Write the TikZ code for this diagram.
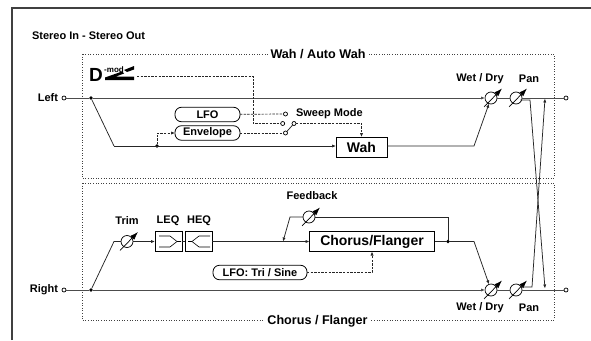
\documentclass[tikz,border=0pt]{standalone}
\usepackage{fontspec}
\setmainfont{Liberation Sans}
\usepackage{tikz}
\usetikzlibrary{arrows.meta,positioning}

\newcommand{\knob}[3]{
\node [knobnode] (#1) at (#2,#3) {};
\draw [knobline] (#2-7,#3+9) -- (#2+11,#3-9.5);
}

\begin{document}
\begin{tikzpicture}[x=1pt, y=-1pt, >={Latex[length=4pt,width=3.2pt]},
  every node/.style={font=\fontsize{11}{12}\selectfont\bfseries, inner sep=0pt, outer sep=0pt},
  sigline/.style={line width=0.75pt, black!85},
  mainline/.style={line width=1pt, black!70},
  modline/.style={line width=0.7pt, dash pattern=on 2.4pt off 1.2pt, black!85},
  dotbox/.style={line width=0.6pt, dotted, black!75},
  frameline/.style={line width=1.1pt, black!75},
  knobnode/.style={circle, draw, line width=0.7pt, minimum size=12pt},
  knobline/.style={line width=0.7pt, -{Latex[length=8pt,width=5.5pt]}},
  port/.style={circle, draw, fill=white, line width=0.7pt, minimum size=4pt},
  junction/.style={circle, fill=black, minimum size=3.8pt},
  pill/.style={draw, line width=0.8pt, rounded corners=6.5pt, minimum height=14.5pt},
  fxbox/.style={draw, line width=0.8pt, minimum height=20pt, font=\fontsize{14}{15}\selectfont\bfseries},
  eqbox/.style={draw, line width=0.7pt, minimum width=27pt, minimum height=20pt},
  eqline/.style={line width=0.6pt}]
\useasboundingbox (0,0) rectangle (591,340);

\draw [frameline] (12,340) -- (12,8) -- (591,8);
\node [anchor=west] (title) at (32,35.5) {Stereo In - Stereo Out};

% effect blocks
\draw [dotbox] (82,54) rectangle (554,178);
\draw [dotbox] (82,183) rectangle (554,320);
\node [fill=white, inner xsep=2pt, font=\fontsize{12.6}{14}\selectfont\bfseries] (wahlabel) at (318,54) {Wah / Auto Wah};
\node [fill=white, inner xsep=2pt, font=\fontsize{12.6}{14}\selectfont\bfseries] (choruslabel) at (317.5,321) {Chorus / Flanger};

% ports
\node [port] (left) at (64,98) {};
\node [port] (right) at (64,290) {};
\node [port] (outl) at (566,98) {};
\node [port] (outr) at (566,290) {};
\node [left=4pt of left] (leftlabel) {Left};
\node [left=4pt of right] (rightlabel) {Right};
\node [junction] (jl) at (91,98) {};
\node [junction] (jr) at (91,290) {};
\node [junction] (jenv) at (157,146) {};
\node [junction] (jfb) at (448,241.5) {};

% knobs
\knob{wdl}{491}{98}
\knob{panl}{516}{98}
\knob{wdr}{491}{290}
\knob{panr}{516}{290}
\knob{trim}{127}{241.5}
\knob{fb}{309}{217}
\node (wdltext) at (480,79) {Wet / Dry};
\node (panltext) at (529,79) {Pan};
\node (wdrtext) at (480,308) {Wet / Dry};
\node (panrtext) at (529,308) {Pan};
\node (trimtext) at (127,221) {Trim};
\node (fbtext) at (312,196) {Feedback};
\node (leqtext) at (168,221) {LEQ};
\node (heqtext) at (199,221) {HEQ};

% boxes
\node [fxbox, minimum width=51pt] (wah) at (361.5,147) {Wah};
\node [fxbox, minimum width=125pt] (chorus) at (372,241.5) {Chorus/Flanger};
\node [eqbox] (leq) at (168.5,241.5) {};
\node [eqbox] (heq) at (198.5,241.5) {};
\node [pill, minimum width=65pt] (lfo) at (207.5,114.5) {LFO};
\node [pill, minimum width=65pt] (env) at (207.5,133) {Envelope};
\node [pill, minimum width=94pt] (lfotri) at (260,272.5) {LFO: Tri / Sine};

\draw [eqline] (159,236) -- (170,236) -- (177,241.5) -- (181,241.5);
\draw [eqline] (159,247) -- (170,247) -- (177,241.5);
\draw [eqline] (188,241.5) -- (192,241.5) -- (199,236) -- (210,236);
\draw [eqline] (192,241.5) -- (199,247) -- (210,247);

% d-mod mark
\node [font=\fontsize{19}{20}\selectfont\bfseries] (dmod) at (96,75) {D};
\node [font=\fontsize{8}{9}\selectfont\bfseries] (modtext) at (114,70) {-mod};
\fill (105,80) -- (105,77.5) -- (122,71.5) -- (124,73.5) -- (116,76.5) -- (134,76.5) -- (134,80) -- cycle;
\fill (124,70) -- (134,66) -- (134,69.5) -- (127,72) -- cycle;
\coordinate (dmodout) at (137,76);

% sweep switch
\node [port] (swlfo) at (285.5,114) {};
\node [port] (swmod) at (282.7,123.5) {};
\node [port] (swenv) at (285.5,133) {};
\node [port] (swout) at (294,123.5) {};
\node [anchor=west] (sweeptext) at (296,114) {Sweep Mode};
\draw [sigline] (swenv) -- (swout);

% signal lines
\draw [mainline] (left) -- (jl);
\draw [mainline, ->] (jl) -- (wdl);
\draw [mainline] (right) -- (jr);
\draw [mainline, ->] (jr) -- (wdr);
\draw [mainline] (panl) -- (outl);
\draw [mainline] (panr) -- (outr);
\draw [mainline] (wdl) -- (panl);
\draw [mainline] (wdr) -- (panr);
\coordinate (wahin) at (114,146);
\coordinate (wahout) at (474,146);
\coordinate (trimin) at (114,241.5);
\coordinate (chorusout) at (474,241.5);
\coordinate (fbin) at (290,217);
\coordinate (fbout) at (283,241.5);
\coordinate (panlout) at (530,100);
\coordinate (panrout) at (532,287);
\coordinate (xlow) at (545,288.5);
\coordinate (xup) at (545,98.5);
\draw [sigline] (jl) -- (wahin);
\draw [sigline, ->] (wahin) -- (wah.west |- wahin);
\draw [sigline, ->] (wah.east |- wahout) -- (wahout) -- (wdl);
\draw [sigline] (jr) -- (trimin) -- (trim);
\draw [sigline, ->] (trim) -- (leq);
\draw [sigline] (leq) -- (heq);
\draw [sigline, ->] (heq) -- (chorus);
\draw [sigline] (chorus) -- (jfb);
\draw [sigline, ->] (jfb) -- (chorusout) -- (wdr);
\draw [sigline] (jfb) |- (fb);
\draw [sigline, ->] (fb) -- (fbin) -- (fbout);
\draw [sigline, ->] (panl.south east |- panlout) -- (panlout) -- (xlow);
\draw [sigline, ->] (panr.north east |- panrout) -- (panrout) -- (xup);

% modulation lines
\draw [modline, ->] (jenv) |- (env);
\draw [modline] (lfo) -- (swlfo);
\draw [modline] (env) -- (swenv);
\draw [modline] (dmodout) -| (253,123.5) -- (swmod);
\draw [modline, ->] (swout) -| (wah.north);
\draw [modline, ->] (lfotri) -| (chorus.south);
\end{tikzpicture}
\end{document}
